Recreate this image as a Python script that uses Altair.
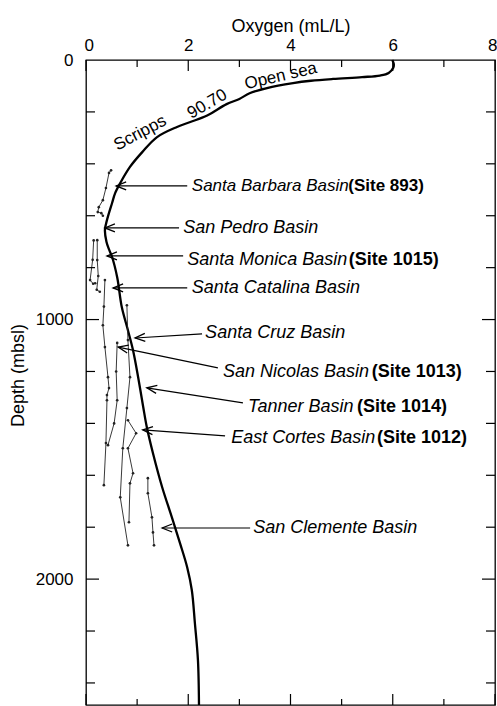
import math
import altair as alt
import pandas as pd

# ---------------- data ----------------
# Open-sea oxygen profile (Scripps 90.70)
open_sea_oxygen = [5.99, 6.02, 6.01, 5.92, 5.75, 5.40, 4.83, 4.40, 4.05, 3.54, 3.20, 3.00,
                   2.75, 2.37, 2.04, 1.78, 1.39, 1.10, 0.86, 0.67, 0.57, 0.51, 0.41, 0.37,
                   0.40, 0.45, 0.51, 0.61, 0.70, 0.82, 0.92, 1.02, 1.12, 1.19, 1.31, 1.49,
                   1.68, 1.84, 1.98, 2.07, 2.13, 2.19, 2.21]
open_sea_depth = [0, 15, 30, 50, 60, 66, 73, 80, 89, 108, 128, 150,
                  170, 214, 239, 258, 297, 355, 412, 474, 513, 551, 617, 655,
                  700, 730, 759, 837, 952, 1041, 1118, 1222, 1338, 1415, 1515, 1646,
                  1762, 1862, 1955, 2043, 2170, 2313, 2485]

# Basin profiles
sb_oxygen = [0.49, 0.45, 0.39, 0.33, 0.25, 0.23, 0.30, 0.33]
sb_depth = [425, 435, 493, 540, 567, 586, 590, 600]
sp_oxygen = [0.15, 0.13, 0.08, 0.14, 0.18]
sp_depth = [695, 770, 848, 862, 860]
sm_oxygen = [0.22, 0.22, 0.24, 0.21, 0.27]
sm_depth = [694, 771, 832, 885, 893]
scat_oxygen = [0.37, 0.35, 0.33, 0.37, 0.43, 0.45, 0.41, 0.41, 0.39, 0.35]
scat_depth = [848, 950, 1022, 1106, 1222, 1264, 1291, 1311, 1476, 1638]
sn_oxygen = [0.61, 0.59, 0.61, 0.55, 0.43]
sn_depth = [1090, 1200, 1311, 1400, 1484]
scz_oxygen = [0.80, 0.82, 0.86, 0.80, 0.72, 0.67, 0.82]
scz_depth = [945, 1079, 1222, 1341, 1496, 1685, 1870]
ec_oxygen = [0.82, 0.98, 0.82, 0.92, 0.86, 0.84]
ec_depth = [1388, 1438, 1496, 1592, 1631, 1781]
scl_oxygen = [1.21, 1.21, 1.29, 1.31, 1.33]
scl_depth = [1611, 1669, 1762, 1820, 1870]

# Basin labels
label_names = ["Santa Barbara Basin", "San Pedro Basin", "Santa Monica Basin",
               "Santa Catalina Basin", "Santa Cruz Basin", "San Nicolas Basin",
               "Tanner Basin", "East Cortes Basin", "San Clemente Basin"]
label_x = [2.07, 1.90, 1.98, 2.07, 2.33, 2.68, 3.17, 2.84, 3.27]
label_depth = [485, 647, 770, 878, 1052, 1202, 1337, 1456, 1803]
label_size = [17, 18, 18, 18, 18, 18, 18, 18, 18]
site_names = ["(Site 893)", "(Site 1015)", "(Site 1013)", "(Site 1014)", "(Site 1012)"]
site_x = [5.13, 5.14, 5.59, 5.30, 5.69]
site_depth = [485, 770, 1202, 1337, 1456]
site_size = [17, 18, 18, 18, 18]

# Arrows (tip on the open-sea curve -> start of the label)
arrow_tip_x = [0.59, 0.37, 0.41, 0.53, 0.96, 0.63, 1.19, 1.11, 1.49]
arrow_tip_depth = [485, 647, 755, 878, 1071, 1106, 1263, 1425, 1803]
arrow_end_x = [1.98, 1.82, 1.90, 1.98, 2.27, 2.58, 3.07, 2.72, 3.21]
arrow_end_depth = [485, 647, 755, 878, 1055, 1186, 1321, 1448, 1803]

# Labels written along the curve
curve_text = ["Scripps", "90.70", "Open sea"]
curve_text_x = [1.06, 2.37, 3.81]
curve_text_depth = [281, 170, 62]
curve_text_angle = [332, 330, 347]

# Axis ticks
x_major = [0, 2, 4, 6, 8]
x_minor = [1, 3, 5, 7]
y_labels = [0, 1000, 2000]
y_major = [1000, 2000]
y_minor = [200, 400, 600, 800, 1200, 1400, 1600, 1800, 2200, 2400]

# ---------------- layout ----------------
W, H = 409, 645
X_DOM = [0, 8]
Y_DOM = [0, 2485]
FONT = "Liberation Sans"

xs = alt.Scale(domain=X_DOM, nice=False, zero=False)
ys = alt.Scale(domain=Y_DOM, nice=False, zero=False, reverse=True)

open_df = pd.DataFrame({"oxygen": open_sea_oxygen, "depth": open_sea_depth,
                        "idx": range(len(open_sea_depth))})

profiles = [("SB", sb_oxygen, sb_depth), ("SP", sp_oxygen, sp_depth),
            ("SM", sm_oxygen, sm_depth), ("SCat", scat_oxygen, scat_depth),
            ("SN", sn_oxygen, sn_depth), ("SCz", scz_oxygen, scz_depth),
            ("EC", ec_oxygen, ec_depth), ("SCl", scl_oxygen, scl_depth)]
rows = []
for name, ox, dp in profiles:
    for i, (o, d) in enumerate(zip(ox, dp)):
        rows.append({"profile": name, "idx": i, "oxygen": o, "depth": d})
prof_df = pd.DataFrame(rows)

px_x = W / (X_DOM[1] - X_DOM[0])
px_y = H / (Y_DOM[1] - Y_DOM[0])
angles = [math.degrees(math.atan2((de - dt) * px_y, (xe - xt) * px_x)) % 360
          for xt, dt, xe, de in zip(arrow_tip_x, arrow_tip_depth, arrow_end_x, arrow_end_depth)]
arrow_df = pd.DataFrame({"oxygen": arrow_tip_x, "depth": arrow_tip_depth,
                         "oxygen2": arrow_end_x, "depth2": arrow_end_depth, "angle": angles})

label_df = pd.DataFrame({"oxygen": label_x, "depth": label_depth, "text": label_names,
                         "size": label_size})
site_df = pd.DataFrame({"oxygen": site_x, "depth": site_depth, "text": site_names,
                        "size": site_size})
curve_df = pd.DataFrame({"oxygen": curve_text_x, "depth": curve_text_depth,
                         "text": curve_text, "angle": curve_text_angle})


def X(**kw):
    return alt.X("oxygen:Q", scale=xs, **kw)


def Y(**kw):
    return alt.Y("depth:Q", scale=ys, **kw)


# base layer that carries the (shared) axes
axes_layer = alt.Chart(open_df).mark_point(opacity=0).encode(
    x=X(title="Oxygen (mL/L)",
        axis=alt.Axis(orient="top", values=x_major, labelFlush=True, labelFlushOffset=2,
                      labelPadding=10, labelBaseline="alphabetic",
                      titleBaseline="alphabetic", titleY=-29)),
    y=Y(title="Depth (mbsl)",
        axis=alt.Axis(orient="left", values=y_labels, format="d", labelPadding=13,
                      titleX=-63, titleY=315, titleAngle=270, titleAlign="center",
                      titleBaseline="alphabetic")),
)

main = alt.Chart(open_df).mark_line(color="black", strokeWidth=2.3,
                                    interpolate="catmull-rom").encode(
    x=X(), y=Y(), order="idx:Q")

prof_lines = alt.Chart(prof_df).mark_line(color="#222", strokeWidth=0.9).encode(
    x=X(), y=Y(), detail="profile:N", order="idx:Q")
prof_pts = alt.Chart(prof_df).mark_point(filled=True, color="#222", size=7, opacity=1).encode(
    x=X(), y=Y())

arrows = alt.Chart(arrow_df).mark_rule(color="black", strokeWidth=1.2).encode(
    x=X(), y=Y(), x2="oxygen2:Q", y2="depth2:Q")
heads = alt.Chart(arrow_df).mark_point(shape="M2,-0.8L0,0L2,0.8", filled=False,
                                       color="black", strokeWidth=1.3, size=100,
                                       opacity=1).encode(
    x=X(), y=Y(), angle=alt.Angle("angle:Q", scale=None))

labels = alt.Chart(label_df).mark_text(align="left", baseline="middle",
                                       fontStyle="italic", font=FONT, color="black").encode(
    x=X(), y=Y(), text="text:N", size=alt.Size("size:Q", scale=None))
sites = alt.Chart(site_df).mark_text(align="left", baseline="middle",
                                     fontWeight="bold", font=FONT, color="black").encode(
    x=X(), y=Y(), text="text:N", size=alt.Size("size:Q", scale=None))
curve_labels = alt.Chart(curve_df).mark_text(align="center", baseline="middle", fontSize=17,
                                             font=FONT, color="black").encode(
    x=X(), y=Y(), text="text:N", angle=alt.Angle("angle:Q", scale=None))

# inward ticks
xmaj_df = pd.DataFrame({"oxygen": x_major})
xmin_df = pd.DataFrame({"oxygen": x_minor})
ymaj_df = pd.DataFrame({"depth": y_major})
ymin_df = pd.DataFrame({"depth": y_minor})
tk = dict(color="black", strokeWidth=1.2)
ticks = [
    alt.Chart(xmaj_df).mark_rule(**tk).encode(x=X(), y=alt.value(0), y2=alt.value(11)),
    alt.Chart(xmin_df).mark_rule(**tk).encode(x=X(), y=alt.value(0), y2=alt.value(7)),
    alt.Chart(xmaj_df).mark_rule(**tk).encode(x=X(), y=alt.value(H), y2=alt.value(H - 11)),
    alt.Chart(xmin_df).mark_rule(**tk).encode(x=X(), y=alt.value(H), y2=alt.value(H - 6)),
    alt.Chart(ymaj_df).mark_rule(**tk).encode(y=Y(), x=alt.value(0), x2=alt.value(13)),
    alt.Chart(ymin_df).mark_rule(**tk).encode(y=Y(), x=alt.value(0), x2=alt.value(9)),
    alt.Chart(ymaj_df).mark_rule(**tk).encode(y=Y(), x=alt.value(W), x2=alt.value(W - 13)),
    alt.Chart(ymin_df).mark_rule(**tk).encode(y=Y(), x=alt.value(W), x2=alt.value(W - 9)),
]

chart = alt.layer(axes_layer, main, prof_lines, prof_pts, arrows, heads, labels, sites,
                  curve_labels, *ticks).properties(
    width=W, height=H,
    padding={"left": 86, "top": 60, "right": 2, "bottom": 1},
    autosize=alt.AutoSizeParams(type="none"),
    background="white",
).configure(
    font=FONT,
).configure_view(
    stroke="black", strokeWidth=1.3,
).configure_axis(
    labelFont=FONT, titleFont=FONT, labelFontSize=17, titleFontSize=18,
    titleFontWeight="normal", labelColor="black", titleColor="black",
    domain=False, ticks=False, tickSize=0, grid=False,
)

chart.save("out.html", embed_options={"renderer": "svg", "actions": False})
